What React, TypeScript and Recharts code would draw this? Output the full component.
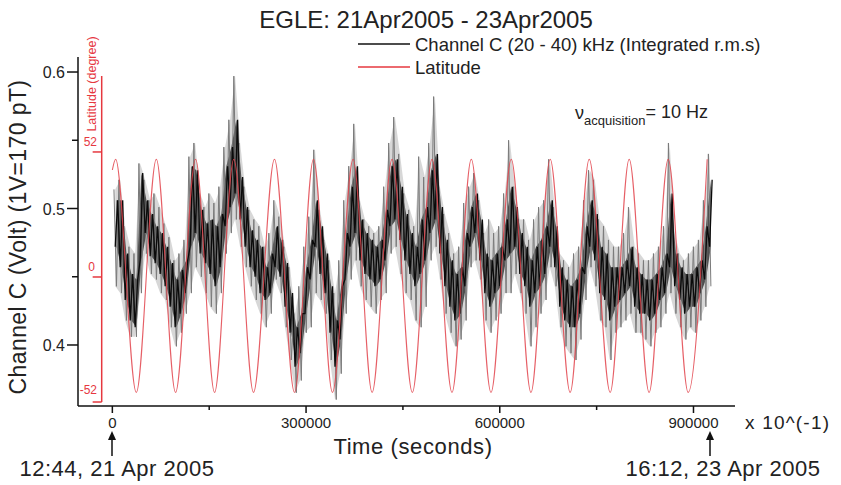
import React from "react";
import { ComposedChart, Line, Area, XAxis, YAxis, ReferenceLine } from "recharts";

// time axis is in units of 0.1 s (sample index), as in the original plot
const TIME_START = 2500;
const TIME_STEP = 7736;

// Channel C, raw signal envelope (grey), one high/low pair per step
const rawHigh = [
  0.514, 0.521, 0.487, 0.472, 0.467, 0.533, 0.521, 0.506, 0.511, 0.501,
  0.489, 0.479, 0.462, 0.467, 0.477, 0.538, 0.548, 0.511, 0.501, 0.511,
  0.504, 0.516, 0.545, 0.565, 0.597, 0.548, 0.516, 0.499, 0.492, 0.487,
  0.472, 0.482, 0.506, 0.494, 0.472, 0.457, 0.423, 0.443, 0.472, 0.494,
  0.543, 0.499, 0.477, 0.462, 0.438, 0.462, 0.506, 0.531, 0.562, 0.506,
  0.492, 0.487, 0.482, 0.487, 0.516, 0.548, 0.567, 0.540, 0.511, 0.499,
  0.487, 0.538, 0.523, 0.548, 0.582, 0.516, 0.496, 0.482, 0.467, 0.472,
  0.504, 0.516, 0.526, 0.506, 0.482, 0.492, 0.482, 0.487, 0.511, 0.550,
  0.516, 0.492, 0.492, 0.477, 0.492, 0.501, 0.506, 0.536, 0.501, 0.467,
  0.462, 0.457, 0.467, 0.472, 0.506, 0.528, 0.521, 0.492, 0.487, 0.477,
  0.472, 0.472, 0.482, 0.501, 0.472, 0.467, 0.462, 0.462, 0.467, 0.472,
  0.487, 0.548, 0.482, 0.467, 0.462, 0.467, 0.472, 0.477, 0.506, 0.540,
];
const rawLow = [
  0.443, 0.438, 0.418, 0.406, 0.406, 0.438, 0.467, 0.452, 0.448, 0.438,
  0.433, 0.413, 0.399, 0.409, 0.423, 0.438, 0.457, 0.450, 0.438, 0.428,
  0.423, 0.438, 0.467, 0.482, 0.492, 0.472, 0.457, 0.443, 0.433, 0.423,
  0.413, 0.423, 0.448, 0.438, 0.413, 0.389, 0.365, 0.374, 0.409, 0.413,
  0.438, 0.433, 0.423, 0.389, 0.360, 0.379, 0.423, 0.448, 0.462, 0.443,
  0.433, 0.428, 0.423, 0.433, 0.438, 0.467, 0.472, 0.452, 0.438, 0.433,
  0.418, 0.413, 0.428, 0.462, 0.472, 0.448, 0.423, 0.409, 0.399, 0.404,
  0.418, 0.457, 0.462, 0.448, 0.418, 0.409, 0.418, 0.423, 0.438, 0.438,
  0.452, 0.438, 0.423, 0.399, 0.413, 0.423, 0.433, 0.457, 0.443, 0.413,
  0.399, 0.394, 0.389, 0.404, 0.433, 0.457, 0.443, 0.418, 0.413, 0.389,
  0.409, 0.413, 0.418, 0.423, 0.409, 0.409, 0.404, 0.399, 0.409, 0.413,
  0.423, 0.438, 0.423, 0.413, 0.404, 0.413, 0.409, 0.418, 0.428, 0.443,
];

// Channel C, dense core of the signal (black)
const coreHigh = [
  0.506, 0.506, 0.467, 0.452, 0.448, 0.526, 0.506, 0.496, 0.487, 0.482,
  0.472, 0.460, 0.448, 0.455, 0.462, 0.531, 0.528, 0.499, 0.489, 0.492,
  0.487, 0.496, 0.531, 0.545, 0.565, 0.523, 0.501, 0.484, 0.477, 0.472,
  0.457, 0.467, 0.487, 0.477, 0.460, 0.438, 0.413, 0.423, 0.457, 0.477,
  0.506, 0.487, 0.467, 0.443, 0.418, 0.443, 0.482, 0.516, 0.531, 0.492,
  0.482, 0.477, 0.472, 0.477, 0.499, 0.531, 0.536, 0.516, 0.496, 0.482,
  0.472, 0.492, 0.501, 0.528, 0.540, 0.501, 0.477, 0.462, 0.452, 0.457,
  0.482, 0.501, 0.511, 0.492, 0.467, 0.462, 0.467, 0.472, 0.492, 0.516,
  0.501, 0.482, 0.472, 0.462, 0.472, 0.477, 0.487, 0.506, 0.487, 0.457,
  0.448, 0.443, 0.448, 0.457, 0.487, 0.506, 0.496, 0.472, 0.467, 0.457,
  0.457, 0.457, 0.462, 0.472, 0.457, 0.452, 0.448, 0.448, 0.452, 0.457,
  0.467, 0.511, 0.467, 0.457, 0.452, 0.452, 0.457, 0.462, 0.487, 0.521,
];
const coreLow = [
  0.472, 0.457, 0.433, 0.418, 0.413, 0.462, 0.482, 0.465, 0.460, 0.452,
  0.443, 0.428, 0.413, 0.423, 0.438, 0.472, 0.482, 0.467, 0.460, 0.452,
  0.443, 0.457, 0.487, 0.501, 0.511, 0.492, 0.472, 0.457, 0.450, 0.438,
  0.433, 0.438, 0.457, 0.450, 0.428, 0.409, 0.384, 0.394, 0.423, 0.448,
  0.472, 0.452, 0.438, 0.409, 0.384, 0.404, 0.448, 0.472, 0.482, 0.462,
  0.452, 0.448, 0.443, 0.448, 0.462, 0.487, 0.492, 0.477, 0.462, 0.452,
  0.443, 0.452, 0.462, 0.482, 0.492, 0.467, 0.443, 0.428, 0.418, 0.423,
  0.443, 0.472, 0.482, 0.462, 0.438, 0.428, 0.438, 0.443, 0.462, 0.467,
  0.472, 0.452, 0.443, 0.428, 0.438, 0.443, 0.452, 0.472, 0.457, 0.428,
  0.418, 0.413, 0.413, 0.423, 0.452, 0.472, 0.462, 0.438, 0.433, 0.418,
  0.428, 0.433, 0.438, 0.443, 0.428, 0.423, 0.423, 0.418, 0.423, 0.433,
  0.438, 0.457, 0.443, 0.433, 0.423, 0.428, 0.428, 0.438, 0.448, 0.472,
];

// satellite latitude, turning points of the orbit (degrees)
const latTimes = [
  0, 5100, 37100, 68100, 97900, 128900, 158300, 188100, 218600, 251100,
  282100, 311500, 340900, 372900, 402300, 433200, 464600, 495100, 526000,
  555900, 586400, 617800, 648300, 678100, 709000, 738500, 771000, 800400,
  831300, 860800, 891800, 921200,
];
const latValues = [
  44.5, 49, -48, 49, -48, 49, -48, 49, -48, 49, -48, 49, -48, 49, -48, 49,
  -48, 49, -48, 49, -48, 49, -48, 49, -48, 49, -48, 49, -48, 49, -48, 49,
];

const xTicks = [0, 150000, 300000, 450000, 600000, 750000, 900000];
const yTicks = [0.4, 0.45, 0.5, 0.55, 0.6];
const latTicks = [52, 0, -52];

const RED = "#e6383f";
const FONT = "'Liberation Sans', Arial, Helvetica, sans-serif";

const rawData = rawHigh.flatMap((h, i) => [
  { t: TIME_START + i * TIME_STEP, v: h },
  { t: TIME_START + i * TIME_STEP + TIME_STEP / 2, v: rawLow[i] },
]);

const coreData = coreHigh.flatMap((h, i) => [
  { t: TIME_START + i * TIME_STEP + TIME_STEP / 4, v: coreLow[i] },
  { t: TIME_START + i * TIME_STEP + (3 * TIME_STEP) / 4, v: h },
]);

// envelope bands, same bins
const rawBand = rawHigh.map((h, i) => ({ t: TIME_START + i * TIME_STEP + TIME_STEP / 4, band: [rawLow[i], h] }));
const coreBand = coreHigh.map((h, i) => ({ t: TIME_START + i * TIME_STEP + TIME_STEP / 2, band: [coreLow[i], h] }));

const latData = latTimes.map((t, i) => ({ t, lat: latValues[i] }));

const XTick = (props: any) => {
  const { x, y, payload } = props;
  const major = payload.value % 300000 === 0;
  return (
    <g>
      <line x1={x} x2={x} y1={y} y2={y + (major ? 7 : 4)} stroke="#111" strokeWidth={1.5} />
      {major && (
        <text x={x} y={y + 22} textAnchor="middle" fontSize={15} fontFamily={FONT} fill="#222">
          {payload.value}
        </text>
      )}
    </g>
  );
};

const YTick = (props: any) => {
  const { x, y, payload } = props;
  const v = payload.value;
  const major = Math.abs(v * 10 - Math.round(v * 10)) < 1e-6;
  return (
    <g>
      <line x1={x - (major ? 11 : 6)} x2={x} y1={y} y2={y} stroke="#111" strokeWidth={1.5} />
      {major && (
        <text x={x - 13} y={y + 6} textAnchor="end" fontSize={16} fontFamily={FONT} fill="#222">
          {v.toFixed(1)}
        </text>
      )}
    </g>
  );
};

export default function App() {
  return (
    <div style={{ position: "absolute", left: 0, top: 0, width: 841, height: 485, background: "#fff" }}>
      <ComposedChart
        width={841}
        height={485}
        margin={{ top: 57, right: 106, left: 0, bottom: 0 }}
      >
        <XAxis
          dataKey="t"
          type="number"
          domain={[-53200, 964300]}
          allowDataOverflow
          ticks={xTicks}
          interval={0}
          tick={<XTick />}
          tickLine={false}
          tickSize={0}
          tickMargin={0}
          height={79}
          axisLine={{ stroke: "#111", strokeWidth: 1.5 }}
        />
        <YAxis
          yAxisId="v"
          type="number"
          domain={[0.3553, 0.611]}
          allowDataOverflow
          ticks={yTicks}
          interval={0}
          tick={<YTick />}
          tickLine={false}
          tickSize={0}
          tickMargin={0}
          width={78}
          axisLine={{ stroke: "#111", strokeWidth: 1.5 }}
        />
        <YAxis yAxisId="lat" hide orientation="right" width={0} type="number" domain={[-53.66, 91.5]} allowDataOverflow />

        {/* latitude axis, drawn inside the plot */}
        <ReferenceLine
          yAxisId="lat"
          segment={[{ x: -16500, y: -52 }, { x: -16500, y: 83.6 }]}
          stroke={RED}
          strokeWidth={1.5}
        />
        {latTicks.map((l) => (
          <ReferenceLine
            key={l}
            yAxisId="lat"
            segment={[{ x: -30500, y: l }, { x: -16500, y: l }]}
            stroke={RED}
            strokeWidth={1.5}
          />
        ))}

        <Area
          yAxisId="v"
          data={rawBand}
          dataKey="band"
          type="linear"
          stroke="none"
          fill="#9c9c9c"
          fillOpacity={0.4}
          dot={false}
          activeDot={false}
          legendType="none"
          isAnimationActive={false}
        />
        <Line
          yAxisId="v"
          data={rawData}
          dataKey="v"
          type="linear"
          stroke="#7a7a7a"
          strokeWidth={1}
          dot={false}
          activeDot={false}
          isAnimationActive={false}
        />
        <Area
          yAxisId="v"
          data={coreBand}
          dataKey="band"
          type="linear"
          stroke="none"
          fill="#151515"
          fillOpacity={0.7}
          dot={false}
          activeDot={false}
          legendType="none"
          isAnimationActive={false}
        />
        <Line
          yAxisId="v"
          data={coreData}
          dataKey="v"
          type="linear"
          stroke="#0a0a0a"
          strokeWidth={1.3}
          dot={false}
          activeDot={false}
          isAnimationActive={false}
        />
        <Line
          yAxisId="lat"
          data={latData}
          dataKey="lat"
          type="monotone"
          stroke="#e2434b"
          strokeOpacity={0.85}
          strokeWidth={1.1}
          dot={false}
          activeDot={false}
          isAnimationActive={false}
        />
      </ComposedChart>

      <svg
        width={841}
        height={485}
        style={{ position: "absolute", left: 0, top: 0, pointerEvents: "none" }}
        fontFamily={FONT}
      >
        <text x={426} y={28} textAnchor="middle" fontSize={24} fill="#222">
          EGLE: 21Apr2005 - 23Apr2005
        </text>

        {/* legend */}
        <line x1={358} x2={410} y1={44} y2={44} stroke="#111" strokeWidth={1.5} />
        <text x={415} y={51} fontSize={18.5} fill="#222">
          Channel C (20 - 40) kHz (Integrated r.m.s)
        </text>
        <line x1={358} x2={410} y1={67} y2={67} stroke={RED} strokeWidth={1.5} />
        <text x={415} y={74} fontSize={18.5} fill="#222">
          Latitude
        </text>

        <text x={575} y={119} fontSize={18} fill="#222">
          ν
          <tspan fontSize={13} dy={6}>acquisition</tspan>
          <tspan fontSize={18} dy={-7}>= 10 Hz</tspan>
        </text>

        <text
          x={26}
          y={237}
          transform="rotate(-90 26 237)"
          textAnchor="middle"
          fontSize={23}
          letterSpacing={0.4}
          fill="#222"
        >
          Channel C (Volt) (1V=170 pT)
        </text>

        <text x={96} y={84} transform="rotate(-90 96 84)" textAnchor="middle" fontSize={12.5} fill={RED}>
          Latitude (degree)
        </text>
        <text x={97} y={146} textAnchor="end" fontSize={12} fill={RED}>52</text>
        <text x={95} y={271} textAnchor="end" fontSize={12} fill={RED}>0</text>
        <text x={97} y={394} textAnchor="end" fontSize={12} fill={RED}>-52</text>

        <text x={745} y={429} fontSize={19} letterSpacing={1.2} fill="#222">
          x 10^(-1)
        </text>
        <text x={413} y={454} textAnchor="middle" fontSize={22} letterSpacing={0.6} fill="#222">
          Time (seconds)
        </text>

        {/* start / end markers */}
        <line x1={112} x2={112} y1={456} y2={438} stroke="#111" strokeWidth={1.5} />
        <polygon points="108,440 112,431 116,440" fill="#111" />
        <line x1={710} x2={710} y1={456} y2={438} stroke="#111" strokeWidth={1.5} />
        <polygon points="706,440 710,431 714,440" fill="#111" />
        <text x={117} y={476} textAnchor="middle" fontSize={22} letterSpacing={0.5} fill="#222">
          12:44, 21 Apr 2005
        </text>
        <text x={723} y={476} textAnchor="middle" fontSize={22} letterSpacing={0.5} fill="#222">
          16:12, 23 Apr 2005
        </text>
      </svg>
    </div>
  );
}
